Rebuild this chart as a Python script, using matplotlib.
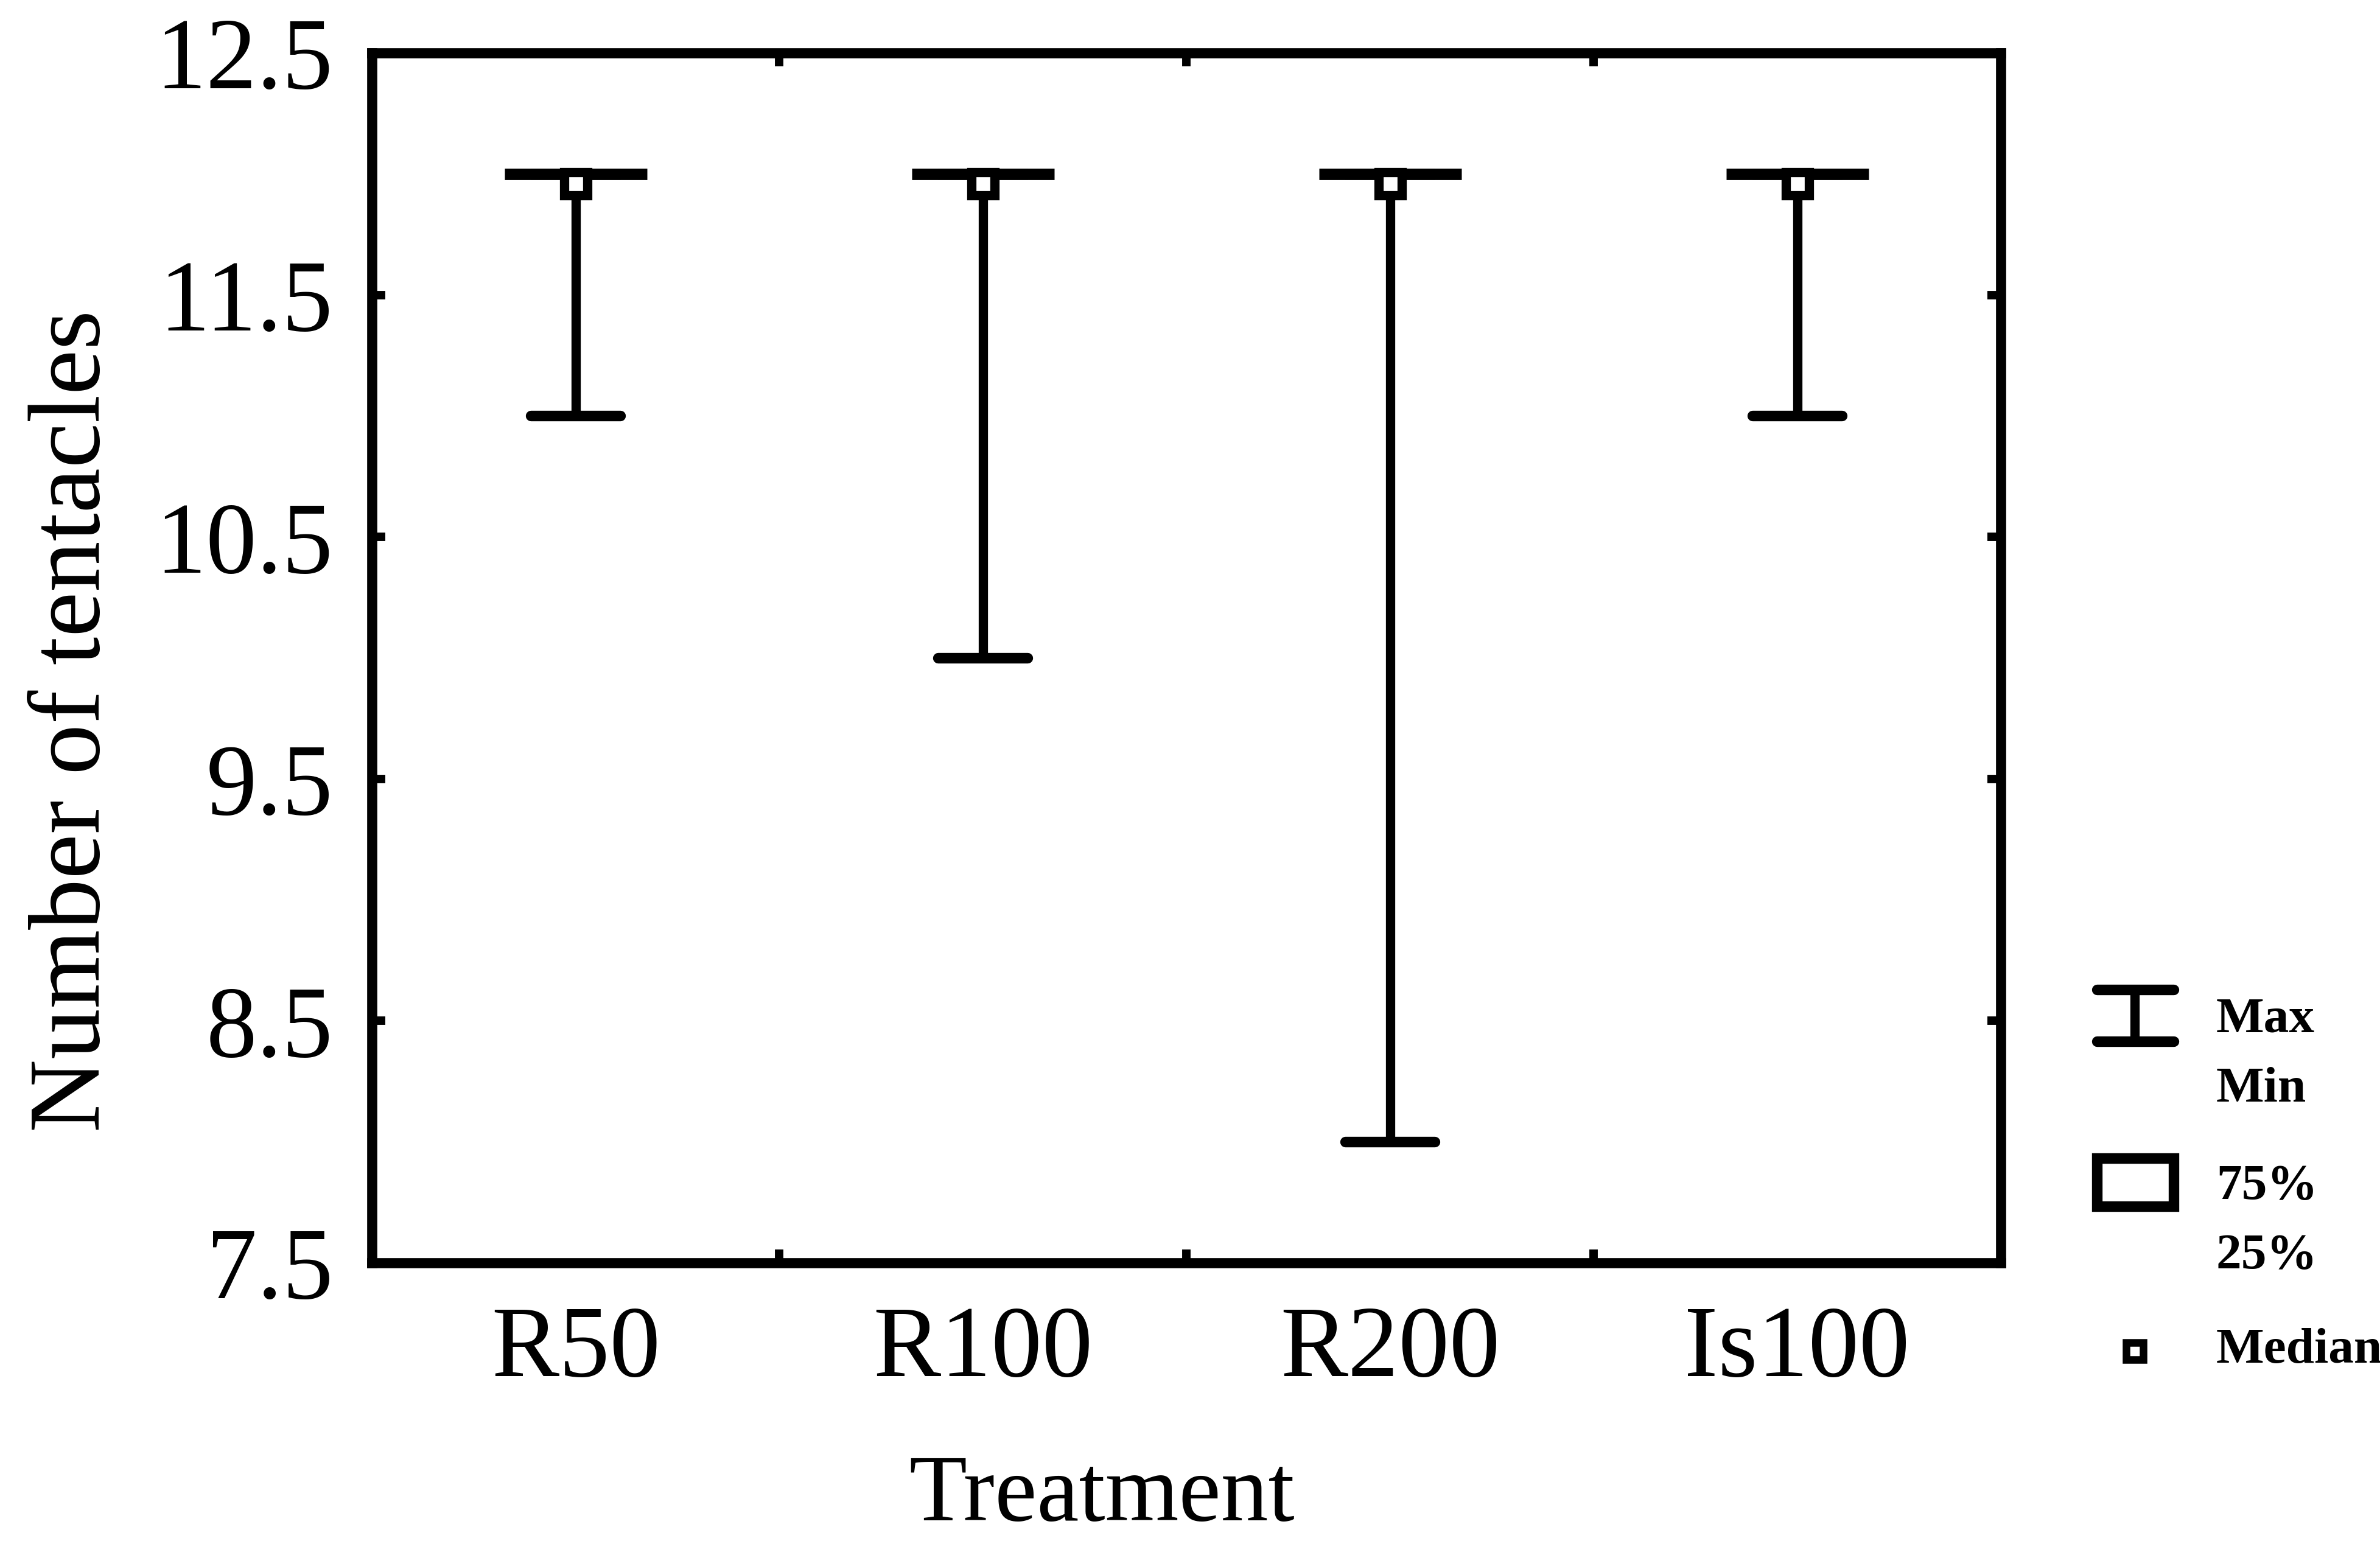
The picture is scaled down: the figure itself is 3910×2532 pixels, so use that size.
import numpy as np
from matplotlib import pyplot as plt
from matplotlib.patches import Rectangle

plt.rcParams['font.family'] = ['Liberation Serif', 'DejaVu Serif']

# number of tentacles per treatment (box-whisker summary)
treatments = ['R50', 'R100', 'R200', 'Is100']
max_vals = [12, 12, 12, 12]
min_vals = [11, 10, 8, 11]
q75_vals = [12, 12, 12, 12]
q25_vals = [12, 12, 12, 12]
median_vals = [11.96, 11.96, 11.96, 11.96]
y_ticks = [7.5, 8.5, 9.5, 10.5, 11.5, 12.5]

x = np.arange(len(treatments))
max_vals = np.array(max_vals)
min_vals = np.array(min_vals)
q75_vals = np.array(q75_vals)
q25_vals = np.array(q25_vals)

fig = plt.figure(figsize=(39.1, 25.32), dpi=100)
ax = fig.add_axes([0.1563, 0.1805, 0.6844, 0.7851])

lw_spine = 12
lw_cap = 12.5
lw_whisk = 11
cap_w = 0.22
box_w = 0.35

# whiskers and caps
ax.vlines(x, min_vals, max_vals, colors='k', lw=lw_whisk, zorder=2)
caps_lo = ax.hlines(min_vals, x - cap_w / 2, x + cap_w / 2, colors='k', lw=lw_cap, zorder=2)
caps_hi = ax.hlines(max_vals, x - cap_w / 2, x + cap_w / 2, colors='k', lw=lw_cap, zorder=2)
caps_lo.set_capstyle('round')
caps_hi.set_capstyle('round')

# 25%-75% boxes
for xi, lo, hi in zip(x, q25_vals, q75_vals):
    box = Rectangle((xi - box_w / 2, lo), box_w, hi - lo, facecolor='white',
                    edgecolor='k', lw=lw_cap + 1, joinstyle='round', zorder=3)
    ax.add_patch(box)

# medians
ax.plot(x, median_vals, 's', ms=27, mfc='white', mec='k', mew=11, zorder=4)

ax.set_xlim(-0.5, 3.5)
ax.set_ylim(7.5, 12.5)
for s in ax.spines.values():
    s.set_linewidth(lw_spine)

ax.set_yticks(y_ticks)
ax.set_yticklabels([f'{v:.1f}' for v in y_ticks], fontsize=120)
ax.tick_params(axis='y', which='major', direction='in', length=16, width=10,
               pad=46, left=True, right=True)

ax.set_xticks([0.5, 1.5, 2.5])
ax.set_xticklabels([])
ax.set_xticks(x, minor=True)
ax.set_xticklabels(treatments, minor=True, fontsize=120)
ax.tick_params(axis='x', which='major', direction='in', length=16, width=10,
               top=True, bottom=True)
ax.tick_params(axis='x', which='minor', length=0, pad=50)

ax.set_xlabel('Treatment', fontsize=112, va='top')
ax.xaxis.set_label_coords(0.448, -0.158)
ax.set_ylabel('Number of tentacles', fontsize=120)
ax.yaxis.set_label_coords(-0.154, 0.448)

# legend drawn in figure pixel space
lax = fig.add_axes([0, 0, 1, 1])
lax.set_xlim(0, 3910)
lax.set_ylim(2532, 0)
lax.axis('off')
lax.plot([3507, 3507], [1626, 1711], color='k', lw=lw_whisk)
lax.plot([3445, 3571], [1626, 1626], color='k', lw=lw_cap, solid_capstyle='round')
lax.plot([3445, 3571], [1711, 1711], color='k', lw=lw_cap, solid_capstyle='round')
lax.add_patch(Rectangle((3445, 1903), 126, 79, fill=False, edgecolor='k', lw=lw_cap))
lax.plot([3507], [2220], 's', ms=20, mfc='white', mec='k', mew=9)
leg_font = dict(fontsize=60, fontweight='bold', ha='left', va='center')
lax.text(3641, 1676, 'Max', **leg_font)
lax.text(3641, 1791, 'Min', **leg_font)
lax.text(3641, 1950, '75%', **leg_font)
lax.text(3641, 2065, '25%', **leg_font)
lax.text(3641, 2220, 'Median', **leg_font)

fig.savefig('out.png', dpi=100)
